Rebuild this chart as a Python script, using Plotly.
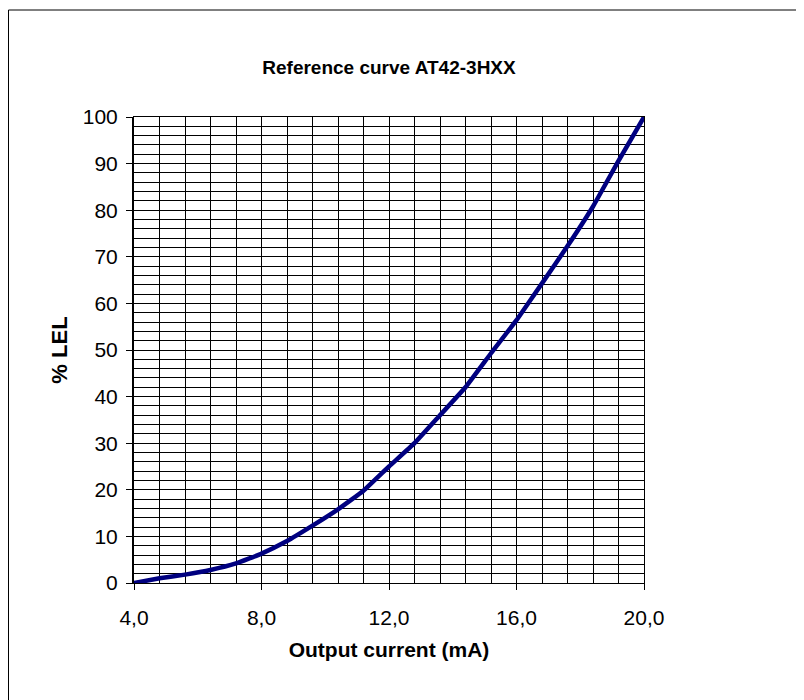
import plotly.graph_objects as go

current_mA = [4.0, 4.8, 5.6, 6.4, 7.2, 8.0, 8.8, 9.6, 10.4, 11.2, 12.0,
              12.8, 13.6, 14.4, 15.2, 16.0, 16.8, 17.6, 18.4, 19.2, 20.0]
lel_pct = [0.0, 1.0, 1.8, 2.8, 4.2, 6.3, 9.0, 12.3, 15.8, 19.8, 25.0,
           30.0, 36.0, 42.0, 49.3, 56.4, 64.3, 72.3, 80.8, 90.6, 100.0]

title_text = "Reference curve AT42-3HXX"
x_title = "Output current (mA)"
y_title = "% LEL"

FONT = "Liberation Sans, Arial, sans-serif"

X_RANGE = [4, 20]
Y_RANGE = [0, 100]

fig = go.Figure()
# data curve on the labelled axes
fig.add_trace(go.Scatter(
    x=current_mA, y=lel_pct, mode="lines",
    line=dict(color="#000080", width=4.5, shape="spline", smoothing=0.3),
    showlegend=False, hoverinfo="x+y", xaxis="x2", yaxis="y2",
))
# invisible anchor trace for the grid axes
fig.add_trace(go.Scatter(
    x=X_RANGE, y=Y_RANGE, mode="markers", marker=dict(opacity=0),
    showlegend=False, hoverinfo="skip", xaxis="x", yaxis="y",
))

L, T = 126, 109
W, H = 510, 466
fig.update_layout(
    width=804, height=700,
    margin=dict(l=L, r=804 - L - W, t=T, b=700 - T - H, pad=0),
    paper_bgcolor="white", plot_bgcolor="white",
    separators=", ",
    font=dict(family=FONT, size=21, color="black"),
    title=dict(text="<b>" + title_text + "</b>", x=(L + W / 2) / 804, xanchor="center",
               y=1 - 59 / 700, yanchor="middle", yref="container",
               font=dict(size=19, family=FONT, color="black")),
    # grid axes
    xaxis=dict(
        range=X_RANGE, tickmode="linear", tick0=4, dtick=0.8,
        showgrid=True, gridcolor="black", gridwidth=1,
        showticklabels=False, ticks="", showline=True, linecolor="black", linewidth=1,
        mirror=True, zeroline=False,
    ),
    yaxis=dict(
        range=Y_RANGE, tickmode="linear", tick0=0, dtick=2,
        showgrid=True, gridcolor="black", gridwidth=1,
        showticklabels=False, ticks="", showline=True, linecolor="black", linewidth=1,
        mirror=True, zeroline=False,
    ),
    # labelled axes
    xaxis2=dict(
        overlaying="x", anchor="y2", range=X_RANGE, tickmode="linear", tick0=4, dtick=4,
        tickformat=".1f", showgrid=False, zeroline=False,
        ticks="outside", ticklen=6, tickcolor="black", tickwidth=1,
        showline=True, linecolor="black", linewidth=1,
        tickfont=dict(size=21), ticklabelstandoff=10,
        title=dict(text="<b>" + x_title + "</b>", font=dict(size=21), standoff=14),
    ),
    yaxis2=dict(
        overlaying="y", anchor="x2", range=Y_RANGE, tickmode="linear", tick0=0, dtick=10,
        showgrid=False, zeroline=False,
        ticks="outside", ticklen=6, tickcolor="black", tickwidth=1,
        showline=True, linecolor="black", linewidth=2,
        tickfont=dict(size=21), ticklabelstandoff=4,
        title=dict(text="<b>" + y_title + "</b>", font=dict(size=22), standoff=9),
    ),
    shapes=[
        dict(type="rect", xref="paper", yref="paper",
             x0=(0.5 - L) / W, x1=(812 - L) / W,
             y0=(T + H - 710) / H, y1=(T + H - 2) / H,
             line=dict(color="black", width=1), fillcolor="rgba(0,0,0,0)"),
    ],
)

fig.write_html("out.html")
